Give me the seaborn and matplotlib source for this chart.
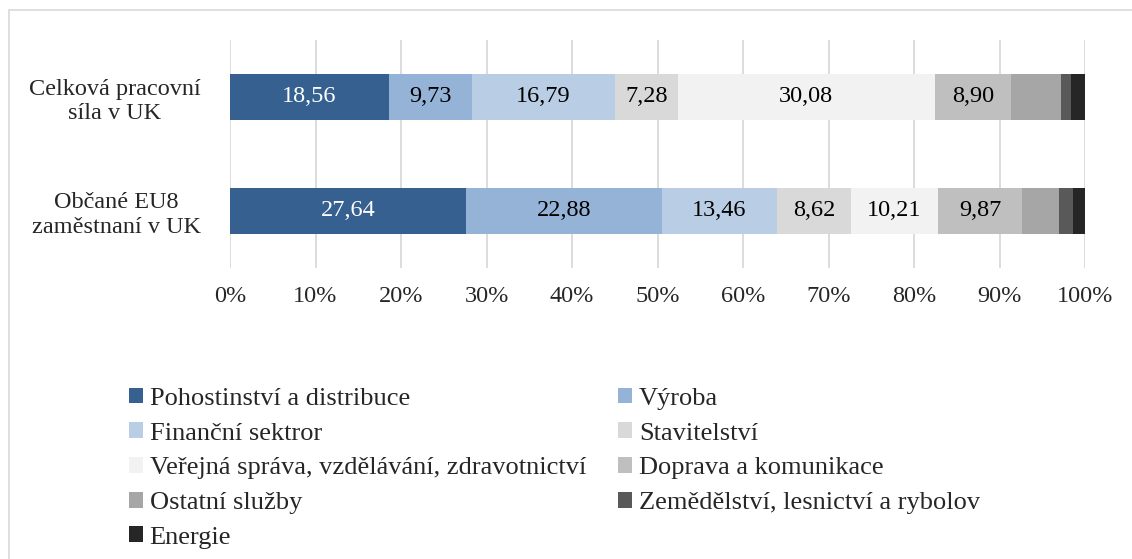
import numpy as np
import pandas as pd
import seaborn as sns
import matplotlib.pyplot as plt
from matplotlib.patches import Patch, Rectangle

# data (percent of workforce per sector)
categories = ["Celková pracovní\nsíla v UK", "Občané EU8\nzaměstnaní v UK"]
sectors = ["Pohostinství a distribuce", "Výroba", "Finanční sektror", "Stavitelství",
           "Veřejná správa, vzdělávání, zdravotnictví", "Doprava a komunikace",
           "Ostatní služby", "Zemědělství, lesnictví a rybolov", "Energie"]
celkova = [18.56, 9.73, 16.79, 7.28, 30.08, 8.90, 5.85, 1.14, 1.67]
eu8 = [27.64, 22.88, 13.46, 8.62, 10.21, 9.87, 4.28, 1.60, 1.44]
labeled = [True, True, True, True, True, True, False, False, False]
colors = ["#35608f", "#95b3d7", "#b9cde5", "#d9d9d9", "#f2f2f2",
          "#bfbfbf", "#a6a6a6", "#595959", "#262626"]
xticks = list(range(0, 101, 10))

rows = []
for cat, vals in zip(categories, [celkova, eu8]):
    cum = np.cumsum(vals)
    for s, v, c in zip(sectors, vals, cum):
        rows.append({"category": cat, "sector": s, "value": v, "cum": c})
df = pd.DataFrame(rows)

sns.set_style("white")
plt.rcParams["font.family"] = ["Liberation Serif", "DejaVu Serif"]

fig = plt.figure(figsize=(11.32, 5.59), dpi=100)
ax = fig.add_axes([230 / 1132, 1 - 268 / 559, 855 / 1132, 228 / 559])

# stacked bars: draw cumulative totals from the widest down
for s, col in reversed(list(zip(sectors, colors))):
    sub = df[df["sector"] == s]
    sns.barplot(data=sub, x="cum", y="category", order=categories, color=col,
                orient="h", width=0.4, saturation=1, linewidth=0, ax=ax)

for i, cat in enumerate(categories):
    sub = df[df["category"] == cat].reset_index(drop=True)
    for j, r in sub.iterrows():
        if not labeled[j]:
            continue
        ax.text(r["cum"] - r["value"] / 2, i, f"{r['value']:.2f}".replace(".", ","),
                ha="center", va="center", fontsize=17.5,
                color="white" if j == 0 else "black")

ax.set_xlim(0, 100)
ax.set_ylim(1.5, -0.5)
ax.set_xticks(xticks)
ax.set_xticklabels([f"{t}%" for t in xticks])
ax.set_xlabel("")
ax.set_ylabel("")
ax.grid(axis="x", color="#d9d9d9", linewidth=1.3)
ax.set_axisbelow(True)
for sp in ax.spines.values():
    sp.set_visible(False)
ax.tick_params(axis="x", length=0, pad=13, labelsize=17.5)
ax.tick_params(axis="y", length=0, pad=21, labelsize=17.5)
for lab in ax.get_yticklabels():
    lab.set_multialignment("center")
    lab.set_linespacing(1.2)

# legend filled column-wise to read row-wise like the original
order = [0, 2, 4, 6, 8, 1, 3, 5, 7]
handles = [Patch(facecolor=colors[k], edgecolor="none") for k in order]
fig.legend(handles, [sectors[k] for k in order], ncol=2, frameon=False,
           loc="upper left", bbox_to_anchor=(118 / 1132, 1 - 377 / 559),
           fontsize=19, handlelength=0.55, handleheight=0.55, handletextpad=0.25,
           labelspacing=0.47, columnspacing=1.2, borderaxespad=0)

fig.patches.append(Rectangle((9 / 1132, -0.1), 1, 1.1 - 10 / 559,
                             transform=fig.transFigure, fill=False,
                             edgecolor="#d9d9d9", linewidth=1.2))

fig.savefig("out.png", dpi=100)
